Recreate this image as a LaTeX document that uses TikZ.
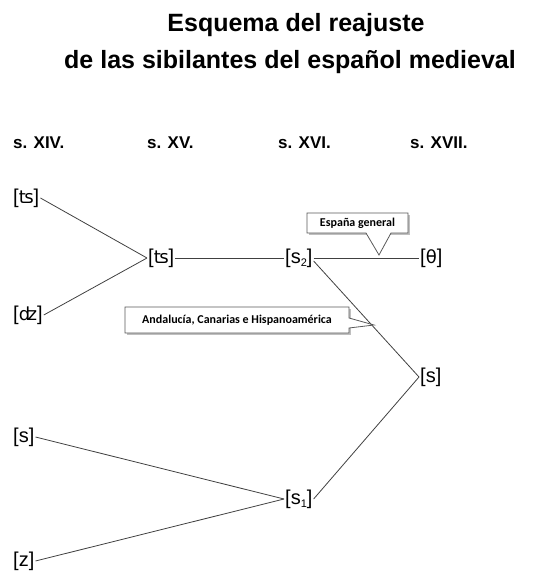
\documentclass[tikz,border=0pt]{standalone}
\usepackage{fontspec}
\setmainfont{Liberation Sans}
\newfontfamily\ipafont{DejaVu Sans}
\newfontfamily\calfont{Carlito}
\begin{document}
\begin{tikzpicture}[x=1pt,y=-1pt,
  ph/.style={anchor=west,inner sep=1pt,font=\fontsize{20}{20}\selectfont},
  hd/.style={anchor=west,inner sep=0pt,font=\bfseries\fontsize{17}{17}\selectfont},
  ttl/.style={inner sep=0pt,font=\bfseries\fontsize{25}{25}\selectfont},
  ln/.style={draw=black!75,line width=0.8pt},
  callout/.style={draw=black!65,fill=white,line width=0.8pt},
  shadow/.style={fill=black!25,draw=none},
  cal/.style={inner sep=0pt,font=\calfont\bfseries\fontsize{12}{12}\selectfont}
]
\useasboundingbox (0,0) rectangle (535,571);
% title
\node[ttl] (t1line) at (296,25) {Esquema del reajuste};
\node[ttl] (t2line) at (290,62) {de las sibilantes del español medieval};
% headers
\node[hd] (h14) at (13,143) {s. XIV.};
\node[hd] (h15) at (147,143) {s. XV.};
\node[hd] (h16) at (278,143) {s. XVI.};
\node[hd] (h17) at (410,143) {s. XVII.};
% phonetic nodes
\node[ph] (ts1) at (12,198) {[{\ipafont\fontsize{18}{18}\selectfont ʦ}]};
\node[ph] (dz) at (12,315) {[{\ipafont\fontsize{18}{18}\selectfont ʣ}]};
\node[ph] (ts2) at (147,258) {[{\ipafont\fontsize{18}{18}\selectfont ʦ}]};
\node[ph] (s2) at (284,258) {[s\raisebox{-0.15em}{\fontsize{11}{11}\selectfont 2}]};
\node[ph] (th) at (419,258) {[{\ipafont\fontsize{18}{18}\selectfont θ}]};
\node[ph] (sR) at (419,377) {[s]};
\node[ph] (sL) at (12,437) {[s]};
\node[ph] (z) at (12,561) {[z]};
\node[ph] (s1) at (284,499) {[s\raisebox{-0.15em}{\fontsize{11}{11}\selectfont 1}]};
% connectors
\draw[ln] (ts1.east) -- (ts2.west);
\draw[ln] (dz.east) -- (ts2.west);
\draw[ln] (ts2.east) -- (s2.west);
\draw[ln] (s2.east) -- (th.west);
\draw[ln] ([yshift=-3pt]s2.east) -- (sR.west);
\draw[ln] (sL.east) -- (s1.west);
\draw[ln] (z.east) -- (s1.west);
\draw[ln] (s1.east) -- (sR.west);
% callout: España general
\coordinate (espTip) at (379,255);
\fill[shadow] (309,215) rectangle (410,235);
\draw[callout] (307,213) -- (408,213) -- (408,233) -- (391,233) -- (espTip) -- (366,233) -- (307,233) -- cycle;
\node[cal] (esp) at (357.5,223) {España general};
% callout: Andalucía
\coordinate (andTip) at (374,325);
\fill[shadow] (127,309) rectangle (351,335);
\draw[callout] (125,307) -- (349,307) -- (349,318) -- (andTip) -- (349,328) -- (349,333) -- (125,333) -- cycle;
\node[cal] (and) at (237,320) {Andalucía, Canarias e Hispanoamérica};
\end{tikzpicture}
\end{document}
